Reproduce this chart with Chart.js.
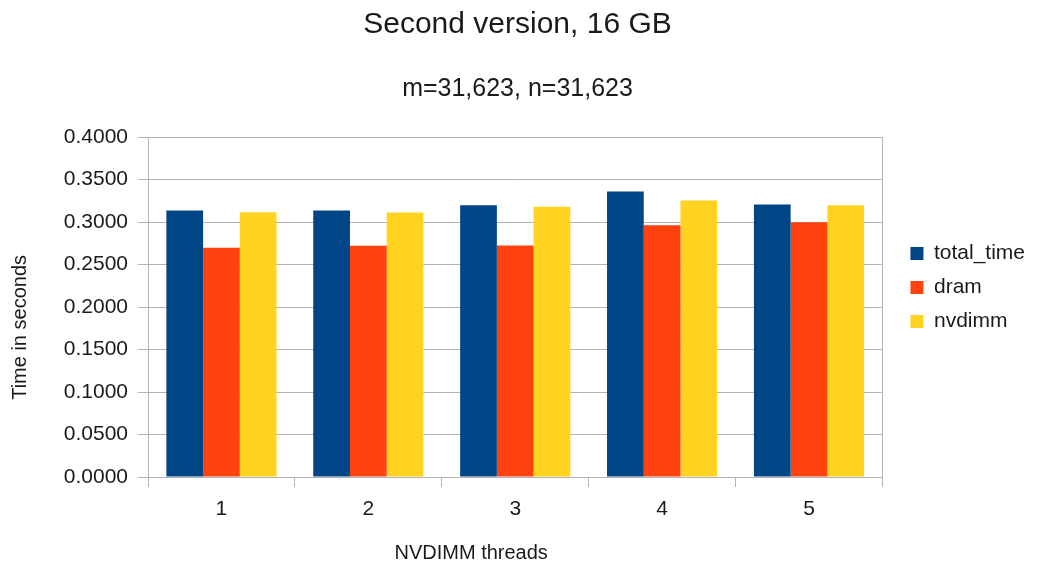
<!DOCTYPE html>
<html>
<head>
<meta charset="utf-8">
<script src="https://cdn.jsdelivr.net/npm/chart.js@4/dist/chart.umd.min.js"></script>
<style>
html,body{margin:0;padding:0;background:#fff;}
#wrap{width:1038px;height:568px;}
</style>
</head>
<body>
<div id="wrap"><canvas id="c" width="1038" height="568"></canvas></div>
<script>
const categories = ['1', '2', '3', '4', '5'];
const totalTime = [0.3135, 0.3135, 0.3197, 0.3360, 0.3205];
const dram = [0.2697, 0.2720, 0.2725, 0.2963, 0.2998];
const nvdimm = [0.3115, 0.3111, 0.3180, 0.3252, 0.3197];
const seriesNames = ['total_time', 'dram', 'nvdimm'];
const xTitle = 'NVDIMM threads';
const yTitle = 'Time in seconds';

const FONT = "'Liberation Sans', Arial, sans-serif";
const GRID = '#b3b3b3';
const TXT = '#1a1a1a';

// Axis titles, placed off-centre like the original
const axisTitles = {
  id: 'axisTitles',
  afterDraw(chart) {
    const a = chart.chartArea, ctx = chart.ctx;
    ctx.save();
    ctx.fillStyle = TXT;
    ctx.font = "20px " + FONT;
    ctx.textAlign = 'center';
    ctx.textBaseline = 'middle';
    ctx.fillText(xTitle, a.left + (a.right - a.left) * 0.44, chart.height - 15);
    ctx.translate(20, a.top + (a.bottom - a.top) * 0.56);
    ctx.rotate(-Math.PI / 2);
    ctx.fillText(yTitle, 0, 0);
    ctx.restore();
  }
};

new Chart(document.getElementById('c'), {
  type: 'bar',
  data: {
    labels: categories,
    datasets: [
      { label: seriesNames[0], data: totalTime, backgroundColor: '#004586' },
      { label: seriesNames[1], data: dram, backgroundColor: '#ff420e' },
      { label: seriesNames[2], data: nvdimm, backgroundColor: '#ffd320' }
    ]
  },
  options: {
    responsive: false,
    animation: false,
    layout: { padding: { left: 0, right: 3, top: 7, bottom: 0 } },
    datasets: { bar: { categoryPercentage: 0.75, barPercentage: 1.0 } },
    plugins: {
      title: {
        display: true,
        text: 'Second version, 16 GB',
        color: TXT,
        font: { family: FONT, size: 30, weight: 'normal' },
        padding: { top: 0, bottom: 31 }
      },
      subtitle: {
        display: true,
        text: 'm=31,623, n=31,623',
        color: TXT,
        font: { family: FONT, size: 25, weight: 'normal' },
        padding: { top: 0, bottom: 33 }
      },
      legend: {
        position: 'right',
        labels: {
          color: TXT,
          font: { family: FONT, size: 21 },
          boxWidth: 13,
          boxHeight: 13,
          padding: 13
        }
      },
      tooltip: { enabled: false }
    },
    scales: {
      x: {
        grid: { display: true, drawOnChartArea: false, drawTicks: true, tickLength: 10, color: GRID, offset: true },
        border: { color: GRID },
        ticks: { color: TXT, font: { family: FONT, size: 21 }, padding: 10 },
        afterFit(s) { s.height = 91; }
      },
      y: {
        min: 0, max: 0.4,
        grid: { color: GRID, tickLength: 10 },
        border: { color: GRID },
        ticks: { stepSize: 0.05, color: TXT, font: { family: FONT, size: 21 }, padding: 10,
          callback: v => Number(v).toFixed(4) },
        afterFit(s) { s.width = 148; }
      },
      yRight: {
        position: 'right',
        min: 0, max: 0.4,
        grid: { display: false, drawOnChartArea: false, drawTicks: false },
        border: { display: true, color: GRID },
        ticks: { display: false },
        afterFit(s) { s.width = 15; }
      }
    }
  },
  plugins: [axisTitles]
});
</script>
</body>
</html>
